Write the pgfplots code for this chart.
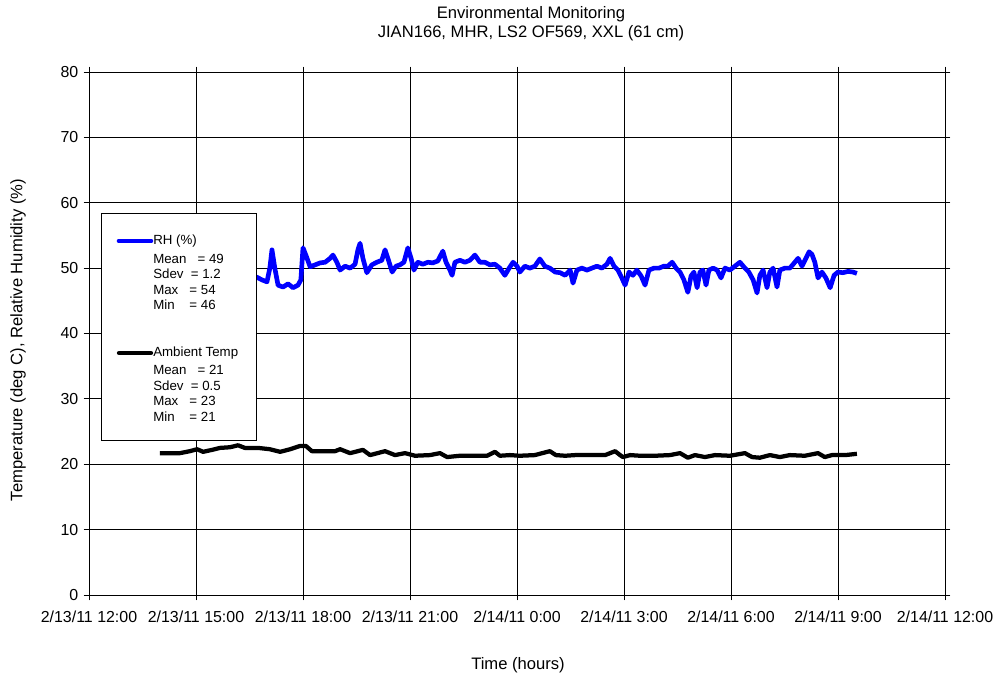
\documentclass[border=0pt]{standalone}
\usepackage{fontspec}
\setmainfont{Liberation Sans}
\usepackage{pgfplots}
\pgfplotsset{compat=1.18}
\usepackage{pgfplotstable}

% RH (%) vs hours after 2/13/11 12:00
\pgfplotstableread{
h v
1.99 49.7
2.83 49.4
3.67 50.0
4.51 48.9
4.71 48.6
4.85 48.2
4.99 47.9
5.07 50.0
5.13 52.8
5.21 50.0
5.30 47.4
5.44 47.1
5.58 47.6
5.72 47.0
5.86 47.4
5.94 48.2
6.00 53.1
6.08 52.0
6.20 50.2
6.34 50.5
6.48 50.8
6.62 50.9
6.76 51.5
6.84 52.0
6.95 50.9
7.04 49.7
7.18 50.3
7.32 50.0
7.46 50.6
7.54 52.8
7.60 53.8
7.68 51.5
7.79 49.3
7.93 50.5
8.07 50.9
8.21 51.2
8.30 52.8
8.38 51.5
8.50 49.4
8.61 50.3
8.72 50.5
8.83 50.9
8.94 53.1
9.03 51.5
9.11 49.7
9.22 50.9
9.36 50.6
9.50 50.9
9.64 50.8
9.78 51.1
9.92 52.6
10.01 50.9
10.12 49.7
10.18 48.9
10.26 50.9
10.40 51.2
10.54 50.9
10.68 51.2
10.82 52.0
10.96 50.9
11.10 50.9
11.24 50.5
11.38 50.6
11.52 50.0
11.66 48.9
11.78 50.0
11.89 50.9
12.00 50.3
12.08 49.4
12.22 50.3
12.36 50.0
12.50 50.3
12.64 51.4
12.78 50.3
12.92 50.0
13.07 49.4
13.21 49.3
13.35 48.9
13.49 49.7
13.57 47.7
13.68 49.7
13.82 50.0
13.96 49.7
14.10 50.0
14.24 50.3
14.38 50.0
14.52 50.6
14.61 51.5
14.72 50.3
14.83 49.7
14.94 48.5
15.03 47.4
15.14 49.4
15.25 48.9
15.36 49.7
15.48 48.8
15.59 47.4
15.70 49.7
15.84 50.0
15.98 50.0
16.12 50.3
16.23 50.3
16.35 50.9
16.46 50.0
16.57 49.4
16.68 48.2
16.79 46.3
16.88 48.8
16.96 49.4
17.05 47.0
17.13 49.4
17.21 49.7
17.30 47.4
17.38 49.7
17.50 50.0
17.61 49.7
17.72 48.5
17.83 50.0
17.97 49.7
18.11 50.3
18.25 50.9
18.39 50.0
18.50 49.4
18.62 48.2
18.73 46.2
18.81 48.9
18.90 49.7
19.01 47.0
19.09 49.4
19.18 50.0
19.29 47.1
19.37 49.7
19.51 50.0
19.65 50.0
19.79 50.9
19.88 51.5
19.99 50.3
20.10 51.5
20.19 52.5
20.27 52.1
20.35 50.9
20.44 48.5
20.55 49.4
20.66 48.5
20.78 47.0
20.89 48.9
21.00 49.4
21.14 49.3
21.28 49.5
21.42 49.4
21.53 49.2
}\rhdata

% Ambient temperature (deg C)
\pgfplotstableread{
h v
1.99 21.7
2.55 21.7
2.83 22.0
3.03 22.3
3.20 21.9
3.45 22.2
3.67 22.5
3.95 22.6
4.18 22.9
4.37 22.5
4.74 22.5
5.07 22.3
5.36 21.9
5.64 22.3
5.92 22.8
6.08 22.8
6.25 22.0
6.62 22.0
6.90 22.0
7.04 22.3
7.32 21.7
7.68 22.2
7.88 21.4
8.30 22.0
8.58 21.4
8.86 21.7
9.14 21.3
9.56 21.4
9.84 21.7
10.04 21.1
10.40 21.3
10.82 21.3
11.16 21.3
11.38 21.9
11.52 21.3
11.80 21.4
12.08 21.3
12.50 21.4
12.92 22.0
13.09 21.4
13.35 21.3
13.63 21.4
14.05 21.4
14.47 21.4
14.75 22.0
14.89 21.4
14.97 21.1
15.17 21.4
15.45 21.3
15.87 21.3
16.29 21.4
16.57 21.7
16.79 21.0
16.99 21.4
17.27 21.1
17.55 21.4
17.97 21.3
18.39 21.7
18.59 21.1
18.81 21.0
19.09 21.4
19.37 21.1
19.65 21.4
20.07 21.3
20.44 21.7
20.63 21.1
20.83 21.4
21.20 21.4
21.53 21.6
}\tempdata

\definecolor{rhblue}{RGB}{0,0,255}

\begin{document}
\begin{tikzpicture}
% pixel frame: 1 px = 0.75bp, plot corner (89,595) at origin
\begin{scope}[x=0.75bp,y=-0.75bp,shift={(-89,-595)}]
\path[use as bounding box] (0,0) rectangle (1000,680);
\end{scope}

\begin{axis}[
  at={(0,0)}, anchor=south west,
  scale only axis,
  width=642bp, height=392.25bp,
  xmin=0, xmax=24, ymin=0, ymax=80,
  xtick={0,3,...,24},
  xticklabels={2/13/11 12:00,2/13/11 15:00,2/13/11 18:00,2/13/11 21:00,2/14/11 0:00,2/14/11 3:00,2/14/11 6:00,2/14/11 9:00,2/14/11 12:00},
  ytick={0,10,...,80},
  tick align=outside,
  major tick length=4bp,
  tick style={black, line width=0.6pt},
  grid=major,
  major grid style={black, line width=0.6pt},
  axis line style={black, line width=0.6pt},
  ticklabel style={font=\fontsize{12}{13.5}\selectfont},
  /pgf/number format/assume math mode=true,
  xticklabel style={yshift=-4.5bp},
  yticklabel style={xshift=-0.5bp},
  clip=false,
]
\addplot[rhblue, line width=3.5pt, line join=round] table[x=h,y=v] {\rhdata};
\addplot[black, line width=3.2pt, line join=round] table[x=h,y=v] {\tempdata};
\end{axis}

\begin{scope}[x=0.75bp,y=-0.75bp,shift={(-89,-595)},
  every node/.style={inner sep=0pt}]
\node[align=center, font=\fontsize{12.5}{14.3}\selectfont] at (531,24)
  {Environmental Monitoring\\JIAN166, MHR, LS2 OF569, XXL (61 cm)};
\node[font=\fontsize{12.5}{14}\selectfont] at (518,665) {Time (hours)};
\node[rotate=90, font=\fontsize{12.5}{14}\selectfont] at (18,340) {Temperature (deg C), Relative Humidity (\%)};
% legend box
\draw[black, line width=0.6pt, fill=white] (101.5,213.5) rectangle (256,440);
\draw[rhblue, line width=3.5pt, line cap=round] (119,241) -- (151,241);
\node[anchor=west, font=\fontsize{10}{11.7}\selectfont] at (153,241) {RH (\%)};
\node[anchor=north west, align=left, font=\fontsize{10}{11.7}\selectfont] at (153,253.5)
  {Mean \ \ = 49\\Sdev \ = 1.2\\Max \ \ = 54\\Min \ \ \ = 46};
\draw[black, line width=3.2pt, line cap=round] (119,353) -- (151,353);
\node[anchor=west, font=\fontsize{10}{11.7}\selectfont] at (153,353) {Ambient Temp};
\node[anchor=north west, align=left, font=\fontsize{10}{11.7}\selectfont] at (153,365)
  {Mean \ \ = 21\\Sdev \ = 0.5\\Max \ \ = 23\\Min \ \ \ = 21};
\end{scope}
\end{tikzpicture}
\end{document}
